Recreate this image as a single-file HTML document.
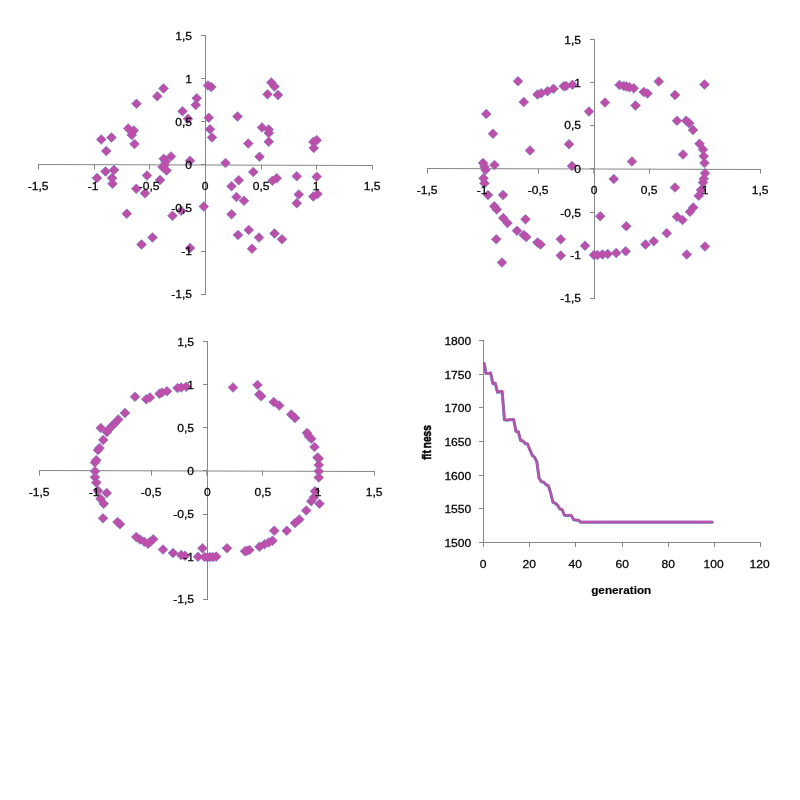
<!DOCTYPE html>
<html><head><meta charset="utf-8"><title>charts</title>
<style>html,body{margin:0;padding:0;background:#fff}svg{display:block}</style>
</head><body>
<svg width="800" height="800" viewBox="0 0 800 800">
<rect width="800" height="800" fill="#fff"/>
<g fill="none" stroke="#868686" stroke-width="1">
<path d="M38 164.5L373 165.5M205.5 35V295M38.5 164V169.6M94.5 164.17V169.6M149.5 164.33V169.6M205.5 164.5V169.6M261.5 164.67V169.6M316.5 164.83V169.6M372.5 165V169.6M205.5 35.5h-4.5M205.5 78.5h-4.5M205.5 121.5h-4.5M205.5 164.5h-4.5M205.5 208.5h-4.5M205.5 251.5h-4.5M205.5 294.5h-4.5"/>
<path d="M427 168.5L761 169.5M594.5 39V299M427.5 168V173.6M483.5 168.17V173.6M538.5 168.33V173.6M593.8 168.5V173.6M649.5 168.67V173.6M705.5 168.83V173.6M760.5 169V173.6M594.5 39.5h-4.5M594.5 82.5h-4.5M594.5 125.5h-4.5M594.5 168.5h-4.5M594.5 212.5h-4.5M594.5 255.5h-4.5M594.5 298.5h-4.5"/>
<path d="M39 470.5L375 471.5M207.5 341V600M39.5 470V475.6M95.5 470.17V475.6M151.5 470.33V475.6M206.8 470.5V475.6M262.5 470.67V475.6M318.5 470.83V475.6M374.5 471V475.6M207.5 341.5h-4.5M207.5 384.5h-4.5M207.5 427.5h-4.5M207.5 470.5h-4.5M207.5 514.5h-4.5M207.5 557.5h-4.5M207.5 599.5h-4.5"/>
<path d="M483.5 340.0V542.5H761.0M483.5 340.5h-4.5M483.5 374.5h-4.5M483.5 407.5h-4.5M483.5 441.5h-4.5M483.5 475.5h-4.5M483.5 508.5h-4.5M483.5 542.5h-4.5M483.5 542.5v4.5M529.5 542.5v4.5M575.5 542.5v4.5M622.5 542.5v4.5M668.5 542.5v4.5M714.5 542.5v4.5M760.5 542.5v4.5"/>
</g>
<path d="M101.25 134.65l4.85 4.85l-4.85 4.85l-4.85 -4.85zM111.5 132.65l4.85 4.85l-4.85 4.85l-4.85 -4.85zM106.25 146.15l4.85 4.85l-4.85 4.85l-4.85 -4.85zM128.25 123.65l4.85 4.85l-4.85 4.85l-4.85 -4.85zM133.75 125.65l4.85 4.85l-4.85 4.85l-4.85 -4.85zM131.75 130.15l4.85 4.85l-4.85 4.85l-4.85 -4.85zM134.5 139.15l4.85 4.85l-4.85 4.85l-4.85 -4.85zM136.5 98.9l4.85 4.85l-4.85 4.85l-4.85 -4.85zM157.25 91.4l4.85 4.85l-4.85 4.85l-4.85 -4.85zM163.5 83.65l4.85 4.85l-4.85 4.85l-4.85 -4.85zM182.5 106.4l4.85 4.85l-4.85 4.85l-4.85 -4.85zM188 113.9l4.85 4.85l-4.85 4.85l-4.85 -4.85zM196.75 93.4l4.85 4.85l-4.85 4.85l-4.85 -4.85zM195.75 100.15l4.85 4.85l-4.85 4.85l-4.85 -4.85zM208 80.65l4.85 4.85l-4.85 4.85l-4.85 -4.85zM211.25 82.15l4.85 4.85l-4.85 4.85l-4.85 -4.85zM208.75 112.9l4.85 4.85l-4.85 4.85l-4.85 -4.85zM210 124.4l4.85 4.85l-4.85 4.85l-4.85 -4.85zM212 132.65l4.85 4.85l-4.85 4.85l-4.85 -4.85zM163.75 153.9l4.85 4.85l-4.85 4.85l-4.85 -4.85zM165.6 156.95l4.85 4.85l-4.85 4.85l-4.85 -4.85zM164.5 160.15l4.85 4.85l-4.85 4.85l-4.85 -4.85zM171 151.65l4.85 4.85l-4.85 4.85l-4.85 -4.85zM190 155.9l4.85 4.85l-4.85 4.85l-4.85 -4.85zM162.5 162.15l4.85 4.85l-4.85 4.85l-4.85 -4.85zM166.5 165.65l4.85 4.85l-4.85 4.85l-4.85 -4.85zM114 165.15l4.85 4.85l-4.85 4.85l-4.85 -4.85zM105.5 166.65l4.85 4.85l-4.85 4.85l-4.85 -4.85zM97 173.15l4.85 4.85l-4.85 4.85l-4.85 -4.85zM112 173.15l4.85 4.85l-4.85 4.85l-4.85 -4.85zM112.5 178.9l4.85 4.85l-4.85 4.85l-4.85 -4.85zM147 170.65l4.85 4.85l-4.85 4.85l-4.85 -4.85zM160 175.15l4.85 4.85l-4.85 4.85l-4.85 -4.85zM136.25 183.9l4.85 4.85l-4.85 4.85l-4.85 -4.85zM145 188.4l4.85 4.85l-4.85 4.85l-4.85 -4.85zM126.75 208.9l4.85 4.85l-4.85 4.85l-4.85 -4.85zM172.5 210.9l4.85 4.85l-4.85 4.85l-4.85 -4.85zM181.25 205.9l4.85 4.85l-4.85 4.85l-4.85 -4.85zM203.75 201.65l4.85 4.85l-4.85 4.85l-4.85 -4.85zM152.5 232.65l4.85 4.85l-4.85 4.85l-4.85 -4.85zM141.5 239.65l4.85 4.85l-4.85 4.85l-4.85 -4.85zM190 243.15l4.85 4.85l-4.85 4.85l-4.85 -4.85zM225.5 158.15l4.85 4.85l-4.85 4.85l-4.85 -4.85zM253.25 167.15l4.85 4.85l-4.85 4.85l-4.85 -4.85zM238.75 175.4l4.85 4.85l-4.85 4.85l-4.85 -4.85zM231.5 181.4l4.85 4.85l-4.85 4.85l-4.85 -4.85zM236.5 192.15l4.85 4.85l-4.85 4.85l-4.85 -4.85zM244 195.9l4.85 4.85l-4.85 4.85l-4.85 -4.85zM231.5 209.4l4.85 4.85l-4.85 4.85l-4.85 -4.85zM248.75 225.15l4.85 4.85l-4.85 4.85l-4.85 -4.85zM238 230.15l4.85 4.85l-4.85 4.85l-4.85 -4.85zM252 243.9l4.85 4.85l-4.85 4.85l-4.85 -4.85zM259 232.65l4.85 4.85l-4.85 4.85l-4.85 -4.85zM248.25 138.65l4.85 4.85l-4.85 4.85l-4.85 -4.85zM259.5 151.9l4.85 4.85l-4.85 4.85l-4.85 -4.85zM237.5 111.65l4.85 4.85l-4.85 4.85l-4.85 -4.85zM262 122.65l4.85 4.85l-4.85 4.85l-4.85 -4.85zM268.75 124.65l4.85 4.85l-4.85 4.85l-4.85 -4.85zM268.75 128.15l4.85 4.85l-4.85 4.85l-4.85 -4.85zM268.75 136.9l4.85 4.85l-4.85 4.85l-4.85 -4.85zM271.25 77.65l4.85 4.85l-4.85 4.85l-4.85 -4.85zM274.5 81.65l4.85 4.85l-4.85 4.85l-4.85 -4.85zM267.5 89.4l4.85 4.85l-4.85 4.85l-4.85 -4.85zM278 90.15l4.85 4.85l-4.85 4.85l-4.85 -4.85zM316.7 135.35l4.85 4.85l-4.85 4.85l-4.85 -4.85zM313.4 137.05l4.85 4.85l-4.85 4.85l-4.85 -4.85zM313.75 143.15l4.85 4.85l-4.85 4.85l-4.85 -4.85zM274.5 228.65l4.85 4.85l-4.85 4.85l-4.85 -4.85zM282 234.4l4.85 4.85l-4.85 4.85l-4.85 -4.85zM272.5 175.9l4.85 4.85l-4.85 4.85l-4.85 -4.85zM276.75 173.4l4.85 4.85l-4.85 4.85l-4.85 -4.85zM296.75 171.4l4.85 4.85l-4.85 4.85l-4.85 -4.85zM316.75 171.9l4.85 4.85l-4.85 4.85l-4.85 -4.85zM298.75 189.65l4.85 4.85l-4.85 4.85l-4.85 -4.85zM296.75 198.4l4.85 4.85l-4.85 4.85l-4.85 -4.85zM313.25 191.65l4.85 4.85l-4.85 4.85l-4.85 -4.85zM317.5 189.15l4.85 4.85l-4.85 4.85l-4.85 -4.85z" fill="#BC4FAA" stroke="#5C9BDD" stroke-width="1.0" stroke-opacity="0.85" paint-order="stroke"/>
<path d="M518 76.4l4.85 4.85l-4.85 4.85l-4.85 -4.85zM523.75 97.15l4.85 4.85l-4.85 4.85l-4.85 -4.85zM486.25 109.15l4.85 4.85l-4.85 4.85l-4.85 -4.85zM493 128.9l4.85 4.85l-4.85 4.85l-4.85 -4.85zM530 145.65l4.85 4.85l-4.85 4.85l-4.85 -4.85zM537.5 89.65l4.85 4.85l-4.85 4.85l-4.85 -4.85zM541.25 88.4l4.85 4.85l-4.85 4.85l-4.85 -4.85zM547.5 86.4l4.85 4.85l-4.85 4.85l-4.85 -4.85zM553.5 83.9l4.85 4.85l-4.85 4.85l-4.85 -4.85zM563.75 81.4l4.85 4.85l-4.85 4.85l-4.85 -4.85zM566 81.15l4.85 4.85l-4.85 4.85l-4.85 -4.85zM572.5 79.9l4.85 4.85l-4.85 4.85l-4.85 -4.85zM589 106.65l4.85 4.85l-4.85 4.85l-4.85 -4.85zM605 97.65l4.85 4.85l-4.85 4.85l-4.85 -4.85zM569 139.4l4.85 4.85l-4.85 4.85l-4.85 -4.85zM572 161.15l4.85 4.85l-4.85 4.85l-4.85 -4.85zM494.5 160.15l4.85 4.85l-4.85 4.85l-4.85 -4.85zM483 158.15l4.85 4.85l-4.85 4.85l-4.85 -4.85zM484.5 161.9l4.85 4.85l-4.85 4.85l-4.85 -4.85zM485.5 165.15l4.85 4.85l-4.85 4.85l-4.85 -4.85zM483.5 173.4l4.85 4.85l-4.85 4.85l-4.85 -4.85zM484.5 178.4l4.85 4.85l-4.85 4.85l-4.85 -4.85zM488 190.15l4.85 4.85l-4.85 4.85l-4.85 -4.85zM503 190.15l4.85 4.85l-4.85 4.85l-4.85 -4.85zM494.25 201.4l4.85 4.85l-4.85 4.85l-4.85 -4.85zM496.75 204.65l4.85 4.85l-4.85 4.85l-4.85 -4.85zM503.25 213.15l4.85 4.85l-4.85 4.85l-4.85 -4.85zM507.5 218.15l4.85 4.85l-4.85 4.85l-4.85 -4.85zM525.5 214.4l4.85 4.85l-4.85 4.85l-4.85 -4.85zM517 225.9l4.85 4.85l-4.85 4.85l-4.85 -4.85zM523.75 230.15l4.85 4.85l-4.85 4.85l-4.85 -4.85zM526.25 232.15l4.85 4.85l-4.85 4.85l-4.85 -4.85zM537.5 237.65l4.85 4.85l-4.85 4.85l-4.85 -4.85zM540.5 239.65l4.85 4.85l-4.85 4.85l-4.85 -4.85zM496.25 234.4l4.85 4.85l-4.85 4.85l-4.85 -4.85zM502 257.65l4.85 4.85l-4.85 4.85l-4.85 -4.85zM560.75 234.4l4.85 4.85l-4.85 4.85l-4.85 -4.85zM560.75 250.65l4.85 4.85l-4.85 4.85l-4.85 -4.85zM585 240.9l4.85 4.85l-4.85 4.85l-4.85 -4.85zM600.25 211.4l4.85 4.85l-4.85 4.85l-4.85 -4.85zM594 250.15l4.85 4.85l-4.85 4.85l-4.85 -4.85zM597.5 250.15l4.85 4.85l-4.85 4.85l-4.85 -4.85zM602.5 249.65l4.85 4.85l-4.85 4.85l-4.85 -4.85zM607.75 249.15l4.85 4.85l-4.85 4.85l-4.85 -4.85zM616.25 248.15l4.85 4.85l-4.85 4.85l-4.85 -4.85zM625.75 246.4l4.85 4.85l-4.85 4.85l-4.85 -4.85zM645.5 239.65l4.85 4.85l-4.85 4.85l-4.85 -4.85zM653.75 236.4l4.85 4.85l-4.85 4.85l-4.85 -4.85zM666.75 228.4l4.85 4.85l-4.85 4.85l-4.85 -4.85zM626.25 221.4l4.85 4.85l-4.85 4.85l-4.85 -4.85zM677 211.9l4.85 4.85l-4.85 4.85l-4.85 -4.85zM682.5 215.15l4.85 4.85l-4.85 4.85l-4.85 -4.85zM690 206.9l4.85 4.85l-4.85 4.85l-4.85 -4.85zM693.25 202.65l4.85 4.85l-4.85 4.85l-4.85 -4.85zM698.75 190.9l4.85 4.85l-4.85 4.85l-4.85 -4.85zM701 185.15l4.85 4.85l-4.85 4.85l-4.85 -4.85zM703 177.65l4.85 4.85l-4.85 4.85l-4.85 -4.85zM703.75 173.9l4.85 4.85l-4.85 4.85l-4.85 -4.85zM705 168.4l4.85 4.85l-4.85 4.85l-4.85 -4.85zM704.5 158.15l4.85 4.85l-4.85 4.85l-4.85 -4.85zM703.75 151.4l4.85 4.85l-4.85 4.85l-4.85 -4.85zM703 144.65l4.85 4.85l-4.85 4.85l-4.85 -4.85zM699.5 138.9l4.85 4.85l-4.85 4.85l-4.85 -4.85zM693 125.15l4.85 4.85l-4.85 4.85l-4.85 -4.85zM689.25 118.4l4.85 4.85l-4.85 4.85l-4.85 -4.85zM686.25 115.9l4.85 4.85l-4.85 4.85l-4.85 -4.85zM677 115.9l4.85 4.85l-4.85 4.85l-4.85 -4.85zM675 90.15l4.85 4.85l-4.85 4.85l-4.85 -4.85zM704.5 79.65l4.85 4.85l-4.85 4.85l-4.85 -4.85zM658.75 76.65l4.85 4.85l-4.85 4.85l-4.85 -4.85zM647.5 88.65l4.85 4.85l-4.85 4.85l-4.85 -4.85zM643.75 87.15l4.85 4.85l-4.85 4.85l-4.85 -4.85zM633.75 83.4l4.85 4.85l-4.85 4.85l-4.85 -4.85zM629.5 82.4l4.85 4.85l-4.85 4.85l-4.85 -4.85zM626.5 81.75l4.85 4.85l-4.85 4.85l-4.85 -4.85zM623.75 81.15l4.85 4.85l-4.85 4.85l-4.85 -4.85zM619.5 80.15l4.85 4.85l-4.85 4.85l-4.85 -4.85zM635.5 100.65l4.85 4.85l-4.85 4.85l-4.85 -4.85zM683 149.65l4.85 4.85l-4.85 4.85l-4.85 -4.85zM632 156.65l4.85 4.85l-4.85 4.85l-4.85 -4.85zM613.75 174.15l4.85 4.85l-4.85 4.85l-4.85 -4.85zM675 182.65l4.85 4.85l-4.85 4.85l-4.85 -4.85zM705 241.65l4.85 4.85l-4.85 4.85l-4.85 -4.85zM686.75 249.65l4.85 4.85l-4.85 4.85l-4.85 -4.85z" fill="#BC4FAA" stroke="#5C9BDD" stroke-width="1.0" stroke-opacity="0.85" paint-order="stroke"/>
<path d="M135 391.9l4.85 4.85l-4.85 4.85l-4.85 -4.85zM146.25 394.4l4.85 4.85l-4.85 4.85l-4.85 -4.85zM150 392.65l4.85 4.85l-4.85 4.85l-4.85 -4.85zM159.5 388.9l4.85 4.85l-4.85 4.85l-4.85 -4.85zM162 387.65l4.85 4.85l-4.85 4.85l-4.85 -4.85zM167 386.4l4.85 4.85l-4.85 4.85l-4.85 -4.85zM177.5 383.15l4.85 4.85l-4.85 4.85l-4.85 -4.85zM181.25 382.65l4.85 4.85l-4.85 4.85l-4.85 -4.85zM186.25 381.9l4.85 4.85l-4.85 4.85l-4.85 -4.85zM125 408.15l4.85 4.85l-4.85 4.85l-4.85 -4.85zM118.25 414.65l4.85 4.85l-4.85 4.85l-4.85 -4.85zM115 418.15l4.85 4.85l-4.85 4.85l-4.85 -4.85zM111.75 421.4l4.85 4.85l-4.85 4.85l-4.85 -4.85zM108.75 424.65l4.85 4.85l-4.85 4.85l-4.85 -4.85zM107 427.15l4.85 4.85l-4.85 4.85l-4.85 -4.85zM100.75 423.15l4.85 4.85l-4.85 4.85l-4.85 -4.85zM103.25 435.15l4.85 4.85l-4.85 4.85l-4.85 -4.85zM99.5 443.15l4.85 4.85l-4.85 4.85l-4.85 -4.85zM98 445.15l4.85 4.85l-4.85 4.85l-4.85 -4.85zM96.25 455.4l4.85 4.85l-4.85 4.85l-4.85 -4.85zM95 457.65l4.85 4.85l-4.85 4.85l-4.85 -4.85zM95 466.4l4.85 4.85l-4.85 4.85l-4.85 -4.85zM95 472.4l4.85 4.85l-4.85 4.85l-4.85 -4.85zM96.25 477.65l4.85 4.85l-4.85 4.85l-4.85 -4.85zM106.75 488.15l4.85 4.85l-4.85 4.85l-4.85 -4.85zM98 485.9l4.85 4.85l-4.85 4.85l-4.85 -4.85zM100.5 493.9l4.85 4.85l-4.85 4.85l-4.85 -4.85zM103.75 498.9l4.85 4.85l-4.85 4.85l-4.85 -4.85zM103 513.4l4.85 4.85l-4.85 4.85l-4.85 -4.85zM117.5 517.15l4.85 4.85l-4.85 4.85l-4.85 -4.85zM120 519.4l4.85 4.85l-4.85 4.85l-4.85 -4.85zM136.25 532.15l4.85 4.85l-4.85 4.85l-4.85 -4.85zM140 534.65l4.85 4.85l-4.85 4.85l-4.85 -4.85zM144.25 536.9l4.85 4.85l-4.85 4.85l-4.85 -4.85zM148 538.9l4.85 4.85l-4.85 4.85l-4.85 -4.85zM150 537.15l4.85 4.85l-4.85 4.85l-4.85 -4.85zM153.25 534.4l4.85 4.85l-4.85 4.85l-4.85 -4.85zM163 544.65l4.85 4.85l-4.85 4.85l-4.85 -4.85zM173 548.15l4.85 4.85l-4.85 4.85l-4.85 -4.85zM181.25 550.15l4.85 4.85l-4.85 4.85l-4.85 -4.85zM185 550.9l4.85 4.85l-4.85 4.85l-4.85 -4.85zM198 551.9l4.85 4.85l-4.85 4.85l-4.85 -4.85zM202.5 543.4l4.85 4.85l-4.85 4.85l-4.85 -4.85zM204.6 552.15l4.85 4.85l-4.85 4.85l-4.85 -4.85zM207.5 552.35l4.85 4.85l-4.85 4.85l-4.85 -4.85zM210.2 552.15l4.85 4.85l-4.85 4.85l-4.85 -4.85zM213 552.15l4.85 4.85l-4.85 4.85l-4.85 -4.85zM216.25 551.75l4.85 4.85l-4.85 4.85l-4.85 -4.85zM227 543.4l4.85 4.85l-4.85 4.85l-4.85 -4.85zM245 546.4l4.85 4.85l-4.85 4.85l-4.85 -4.85zM246.8 545.95l4.85 4.85l-4.85 4.85l-4.85 -4.85zM249.5 545.15l4.85 4.85l-4.85 4.85l-4.85 -4.85zM259.5 541.9l4.85 4.85l-4.85 4.85l-4.85 -4.85zM264.5 539.4l4.85 4.85l-4.85 4.85l-4.85 -4.85zM268.75 537.65l4.85 4.85l-4.85 4.85l-4.85 -4.85zM272.5 535.9l4.85 4.85l-4.85 4.85l-4.85 -4.85zM274.25 525.9l4.85 4.85l-4.85 4.85l-4.85 -4.85zM286.75 525.9l4.85 4.85l-4.85 4.85l-4.85 -4.85zM295 518.15l4.85 4.85l-4.85 4.85l-4.85 -4.85zM299.25 514.65l4.85 4.85l-4.85 4.85l-4.85 -4.85zM306.25 505.65l4.85 4.85l-4.85 4.85l-4.85 -4.85zM319.5 498.9l4.85 4.85l-4.85 4.85l-4.85 -4.85zM311.25 496.4l4.85 4.85l-4.85 4.85l-4.85 -4.85zM313.75 492.65l4.85 4.85l-4.85 4.85l-4.85 -4.85zM315 486.4l4.85 4.85l-4.85 4.85l-4.85 -4.85zM318.75 472.65l4.85 4.85l-4.85 4.85l-4.85 -4.85zM318.75 466.4l4.85 4.85l-4.85 4.85l-4.85 -4.85zM318.75 460.15l4.85 4.85l-4.85 4.85l-4.85 -4.85zM318.75 453.65l4.85 4.85l-4.85 4.85l-4.85 -4.85zM317.5 452.65l4.85 4.85l-4.85 4.85l-4.85 -4.85zM314.5 442.15l4.85 4.85l-4.85 4.85l-4.85 -4.85zM311.25 433.9l4.85 4.85l-4.85 4.85l-4.85 -4.85zM308.75 431.4l4.85 4.85l-4.85 4.85l-4.85 -4.85zM307 428.15l4.85 4.85l-4.85 4.85l-4.85 -4.85zM295 413.15l4.85 4.85l-4.85 4.85l-4.85 -4.85zM291.25 409.65l4.85 4.85l-4.85 4.85l-4.85 -4.85zM279.25 400.65l4.85 4.85l-4.85 4.85l-4.85 -4.85zM273.75 397.15l4.85 4.85l-4.85 4.85l-4.85 -4.85zM261.25 391.4l4.85 4.85l-4.85 4.85l-4.85 -4.85zM259.25 389.65l4.85 4.85l-4.85 4.85l-4.85 -4.85zM257.5 380.15l4.85 4.85l-4.85 4.85l-4.85 -4.85zM233 382.65l4.85 4.85l-4.85 4.85l-4.85 -4.85z" fill="#BC4FAA" stroke="#5C9BDD" stroke-width="1.0" stroke-opacity="0.85" paint-order="stroke"/>
<polyline points="484.2,363.3 485.91,373.3 488.22,373.2 490.53,372.8 492.83,383.4 495.14,383.1 497.45,392.1 499.76,391.6 502.07,391.2 504.38,419.5 506.68,420 508.99,419.5 511.3,419.5 513.61,419.5 515.92,431.3 518.23,431.6 520.53,440.3 522.84,440.8 525.15,443.4 527.46,443.8 529.77,449.5 532.08,455 534.38,457 536.69,461.25 539,478 541.31,481.5 543.62,482 545.93,484.5 548.23,485.5 550.54,492.5 552.85,502 555.16,503 557.47,505 559.77,508.75 562.08,509.5 564.39,515 566.7,515.5 569.01,515 571.32,515.5 573.62,519.5 575.93,520 578.24,520 580.55,522 582.86,522 585.17,522 587.48,522 589.78,522 592.09,522 594.4,522 596.71,522 599.02,522 601.33,522 603.63,522 605.94,522 608.25,522 610.56,522 612.87,522 615.17,522 617.48,522 619.79,522 622.1,522 624.41,522 626.72,522 629.02,522 631.33,522 633.64,522 635.95,522 638.26,522 640.57,522 642.88,522 645.18,522 647.49,522 649.8,522 652.11,522 654.42,522 656.73,522 659.03,522 661.34,522 663.65,522 665.96,522 668.27,522 670.58,522 672.88,522 675.19,522 677.5,522 679.81,522 682.12,522 684.42,522 686.73,522 689.04,522 691.35,522 693.66,522 695.97,522 698.27,522 700.58,522 702.89,522 705.2,522 707.51,522 709.82,522 712.12,522" transform="translate(0.1 0.25)" fill="none" stroke="#4F81BD" stroke-opacity="0.9" stroke-width="3.1" stroke-linejoin="round" stroke-linecap="round"/>
<polyline points="484.2,363.3 485.91,373.3 488.22,373.2 490.53,372.8 492.83,383.4 495.14,383.1 497.45,392.1 499.76,391.6 502.07,391.2 504.38,419.5 506.68,420 508.99,419.5 511.3,419.5 513.61,419.5 515.92,431.3 518.23,431.6 520.53,440.3 522.84,440.8 525.15,443.4 527.46,443.8 529.77,449.5 532.08,455 534.38,457 536.69,461.25 539,478 541.31,481.5 543.62,482 545.93,484.5 548.23,485.5 550.54,492.5 552.85,502 555.16,503 557.47,505 559.77,508.75 562.08,509.5 564.39,515 566.7,515.5 569.01,515 571.32,515.5 573.62,519.5 575.93,520 578.24,520 580.55,522 582.86,522 585.17,522 587.48,522 589.78,522 592.09,522 594.4,522 596.71,522 599.02,522 601.33,522 603.63,522 605.94,522 608.25,522 610.56,522 612.87,522 615.17,522 617.48,522 619.79,522 622.1,522 624.41,522 626.72,522 629.02,522 631.33,522 633.64,522 635.95,522 638.26,522 640.57,522 642.88,522 645.18,522 647.49,522 649.8,522 652.11,522 654.42,522 656.73,522 659.03,522 661.34,522 663.65,522 665.96,522 668.27,522 670.58,522 672.88,522 675.19,522 677.5,522 679.81,522 682.12,522 684.42,522 686.73,522 689.04,522 691.35,522 693.66,522 695.97,522 698.27,522 700.58,522 702.89,522 705.2,522 707.51,522 709.82,522 712.12,522" fill="none" stroke="#BC4FAA" stroke-width="2.3" stroke-linejoin="round" stroke-linecap="round"/>
<g font-family="'Liberation Sans', sans-serif" font-size="11.1" fill="#000" stroke="#000" stroke-width="0.25">
<text transform="translate(38.1 189.5) scale(1.09 1)" text-anchor="middle">-1,5</text>
<text transform="translate(93.2 189.5) scale(1.09 1)" text-anchor="middle">-1</text>
<text transform="translate(149.1 189.5) scale(1.09 1)" text-anchor="middle">-0,5</text>
<text transform="translate(205.1 189.5) scale(1.09 1)" text-anchor="middle">0</text>
<text transform="translate(261.1 189.5) scale(1.09 1)" text-anchor="middle">0,5</text>
<text transform="translate(316.1 189.5) scale(1.09 1)" text-anchor="middle">1</text>
<text transform="translate(372.1 189.5) scale(1.09 1)" text-anchor="middle">1,5</text>
<text transform="translate(192.1 40.1) scale(1.09 1)" text-anchor="end">1,5</text>
<text transform="translate(192.1 83.1) scale(1.09 1)" text-anchor="end">1</text>
<text transform="translate(192.1 125.8) scale(1.09 1)" text-anchor="end">0,5</text>
<text transform="translate(192.1 169.1) scale(1.09 1)" text-anchor="end">0</text>
<text transform="translate(192.1 212.1) scale(1.09 1)" text-anchor="end">-0,5</text>
<text transform="translate(192.1 254.7) scale(1.09 1)" text-anchor="end">-1</text>
<text transform="translate(192.1 298.1) scale(1.09 1)" text-anchor="end">-1,5</text>
<text transform="translate(427.1 193.5) scale(1.09 1)" text-anchor="middle">-1,5</text>
<text transform="translate(482.2 193.5) scale(1.09 1)" text-anchor="middle">-1</text>
<text transform="translate(538.1 193.5) scale(1.09 1)" text-anchor="middle">-0,5</text>
<text transform="translate(594.1 193.5) scale(1.09 1)" text-anchor="middle">0</text>
<text transform="translate(649.1 193.5) scale(1.09 1)" text-anchor="middle">0,5</text>
<text transform="translate(705.1 193.5) scale(1.09 1)" text-anchor="middle">1</text>
<text transform="translate(760.1 193.5) scale(1.09 1)" text-anchor="middle">1,5</text>
<text transform="translate(581.1 43.6) scale(1.09 1)" text-anchor="end">1,5</text>
<text transform="translate(581.1 86.6) scale(1.09 1)" text-anchor="end">1</text>
<text transform="translate(581.1 129.4) scale(1.09 1)" text-anchor="end">0,5</text>
<text transform="translate(581.1 172.6) scale(1.09 1)" text-anchor="end">0</text>
<text transform="translate(581.1 216.7) scale(1.09 1)" text-anchor="end">-0,5</text>
<text transform="translate(581.1 259) scale(1.09 1)" text-anchor="end">-1</text>
<text transform="translate(581.1 302.4) scale(1.09 1)" text-anchor="end">-1,5</text>
<text transform="translate(39.1 495.5) scale(1.09 1)" text-anchor="middle">-1,5</text>
<text transform="translate(94.2 495.5) scale(1.09 1)" text-anchor="middle">-1</text>
<text transform="translate(151.1 495.5) scale(1.09 1)" text-anchor="middle">-0,5</text>
<text transform="translate(207.4 495.5) scale(1.09 1)" text-anchor="middle">0</text>
<text transform="translate(262.9 495.5) scale(1.09 1)" text-anchor="middle">0,5</text>
<text transform="translate(318.1 495.5) scale(1.09 1)" text-anchor="middle">1</text>
<text transform="translate(374.1 495.5) scale(1.09 1)" text-anchor="middle">1,5</text>
<text transform="translate(194.1 345.8) scale(1.09 1)" text-anchor="end">1,5</text>
<text transform="translate(194.1 388.8) scale(1.09 1)" text-anchor="end">1</text>
<text transform="translate(194.1 431.8) scale(1.09 1)" text-anchor="end">0,5</text>
<text transform="translate(194.1 474.8) scale(1.09 1)" text-anchor="end">0</text>
<text transform="translate(194.1 517.6) scale(1.09 1)" text-anchor="end">-0,5</text>
<text transform="translate(194.1 560.6) scale(1.09 1)" text-anchor="end">-1</text>
<text transform="translate(194.1 603) scale(1.09 1)" text-anchor="end">-1,5</text>
<text transform="translate(471.3 345.3) scale(1.09 1)" text-anchor="end">1800</text>
<text transform="translate(471.3 379.3) scale(1.09 1)" text-anchor="end">1750</text>
<text transform="translate(471.3 412.3) scale(1.09 1)" text-anchor="end">1700</text>
<text transform="translate(471.3 446.3) scale(1.09 1)" text-anchor="end">1650</text>
<text transform="translate(471.3 480.3) scale(1.09 1)" text-anchor="end">1600</text>
<text transform="translate(471.3 513.3) scale(1.09 1)" text-anchor="end">1550</text>
<text transform="translate(471.3 547.3) scale(1.09 1)" text-anchor="end">1500</text>
<text transform="translate(483.2 568.3) scale(1.09 1)" text-anchor="middle">0</text>
<text transform="translate(529.2 568.3) scale(1.09 1)" text-anchor="middle">20</text>
<text transform="translate(575.2 568.3) scale(1.09 1)" text-anchor="middle">40</text>
<text transform="translate(622.2 568.3) scale(1.09 1)" text-anchor="middle">60</text>
<text transform="translate(668.2 568.3) scale(1.09 1)" text-anchor="middle">80</text>
<text transform="translate(713.6 568.3) scale(1.09 1)" text-anchor="middle">100</text>
<text transform="translate(759.6 568.3) scale(1.09 1)" text-anchor="middle">120</text>
</g>
<g font-family="'Liberation Sans', sans-serif" font-weight="bold" fill="#000">
<text x="591.2" y="593.7" font-size="11.75" stroke="#000" stroke-width="0.15">generation</text>
<text transform="translate(431.3 459.8) rotate(-90) scale(0.852 1)" font-size="12" stroke="#000" stroke-width="0.5">fit<tspan dx="2.2">ness</tspan></text>
</g>
</svg>
</body></html>
